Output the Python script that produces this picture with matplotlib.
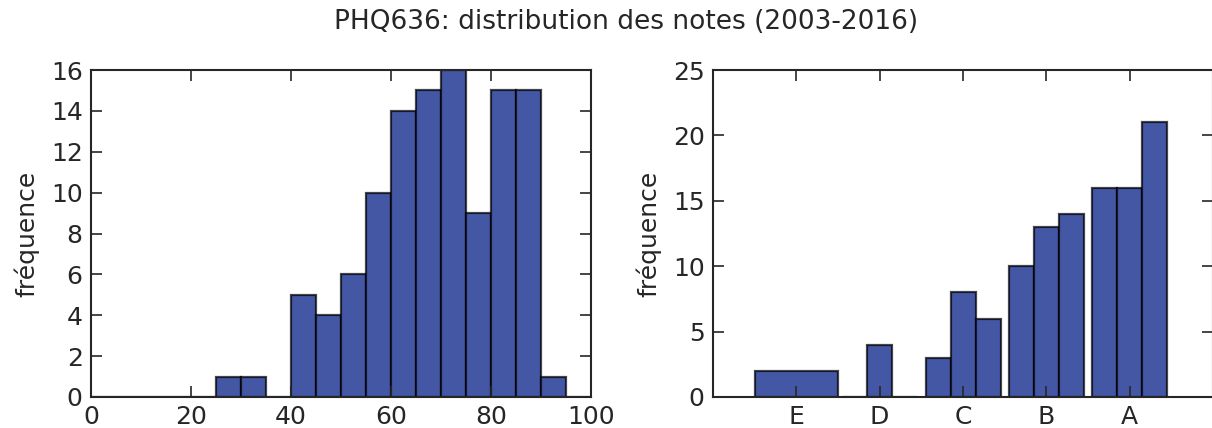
import matplotlib
matplotlib.use("Agg")
import matplotlib.pyplot as plt
import numpy as np

# ---- data ----
title = "PHQ636: distribution des notes (2003-2016)"
ylabel = "fréquence"

# left: numeric grades, bins of 5 from 0 to 100
score_bin_edges = list(range(0, 105, 5))
score_counts = [0, 0, 0, 0, 0, 1, 1, 0, 5, 4, 6, 10, 14, 15, 16, 9, 15, 15, 1, 0]

# right: letter grades (E=0 ... A=4), sub-grades -, ., + at -0.3 / 0 / +0.3
letter_labels = ["E", "D", "C", "B", "A"]
letter_positions = [0, 1, 2, 3, 4]
grade_left_edges = [-0.5, 0.55, 0.85, 1.15, 1.55, 1.85, 2.15, 2.55, 2.85, 3.15, 3.55, 3.85, 4.15]
grade_right_edges = [0.5, 0.85, 1.15, 1.45, 1.85, 2.15, 2.45, 2.85, 3.15, 3.45, 3.85, 4.15, 4.45]
grade_counts = [2, 0, 4, 0, 3, 8, 6, 10, 13, 14, 16, 16, 21]

# ---- style ----
TXT = "#262626"
FACE = "#4457a5"
EDGE = (0, 0, 0, 0.72)
plt.rcParams["font.family"] = ["DejaVu Sans"]
plt.rcParams["text.color"] = TXT
plt.rcParams["axes.labelcolor"] = TXT
plt.rcParams["xtick.color"] = TXT
plt.rcParams["ytick.color"] = TXT

W, H = 1212, 428
fig = plt.figure(figsize=(W / 100, H / 100), dpi=100)

def style_axes(ax):
    for s in ax.spines.values():
        s.set_linewidth(1.5)
        s.set_color(TXT)
    ax.tick_params(direction="in", length=8, width=1.2, top=True, right=True,
                   labelsize=18, pad=6)
    ax.set_ylabel(ylabel, fontsize=18, labelpad=8)

ax1 = fig.add_axes([91 / W, 1 - 397 / H, 500 / W, 327 / H])
ax1.hist(np.array(score_bin_edges[:-1]) + 2.5, bins=score_bin_edges, weights=score_counts,
         color=FACE, edgecolor=EDGE, linewidth=1.6)
ax1.set_xlim(0, 100)
ax1.set_ylim(0, 16)
ax1.set_xticks(range(0, 101, 20))
ax1.set_yticks(range(0, 17, 2))
style_axes(ax1)

ax2 = fig.add_axes([713 / W, 1 - 397 / H, 500 / W, 327 / H])
lefts = np.array(grade_left_edges)
widths = np.array(grade_right_edges) - lefts
ax2.bar(lefts, grade_counts, width=widths, align="edge",
        color=FACE, edgecolor=EDGE, linewidth=1.6)
ax2.set_xlim(-1, 5)
ax2.set_ylim(0, 25)
ax2.set_xticks(letter_positions)
ax2.set_xticklabels(letter_labels)
ax2.set_yticks(range(0, 26, 5))
style_axes(ax2)

fig.text(626 / W, 1 - 22 / H, title, ha="center", va="center", fontsize=19, color=TXT)

fig.savefig("out.png", dpi=100)
